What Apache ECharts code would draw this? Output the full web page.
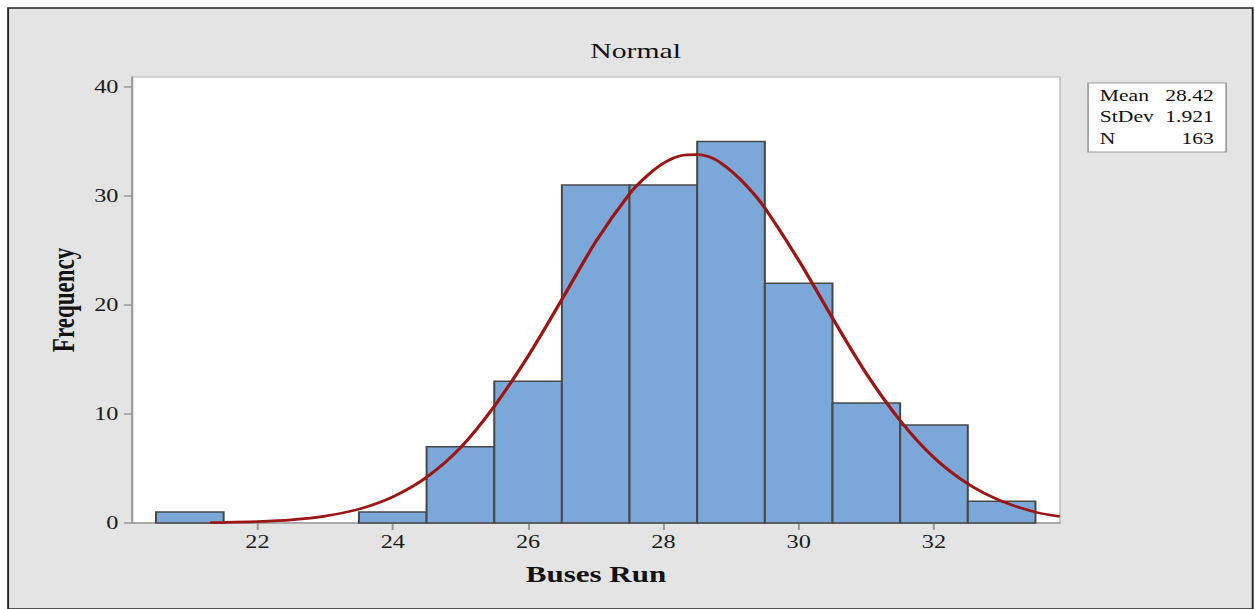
<!DOCTYPE html>
<html>
<head>
<meta charset="utf-8">
<script src="https://cdn.jsdelivr.net/npm/echarts@6/dist/echarts.min.js"></script>
<style>
  html, body { margin: 0; padding: 0; background: #ffffff; overflow: hidden; }
  #wrap { width: 1255px; height: 609px; overflow: hidden; }
  #chart { width: 930px; height: 609px; transform: scaleX(1.34946); transform-origin: 0 0; }
</style>
</head>
<body>
<div id="wrap"><div id="chart"></div></div>
<script>
// ---- data ----
const binCenters = [21, 22, 23, 24, 25, 26, 27, 28, 29, 30, 31, 32, 33];
const binCounts  = [1, 0, 0, 1, 7, 13, 31, 31, 35, 22, 11, 9, 2];
const curveX = [21.3, 21.5, 22, 22.5, 23, 23.5, 24, 24.5, 25, 25.5, 26, 26.5, 27, 27.5, 27.75, 28, 28.25, 28.5, 28.75, 29, 29.25, 29.5, 30, 30.5, 31, 31.5, 32, 32.5, 33, 33.5, 33.86];
const curveY = [0.04, 0.05, 0.13, 0.29, 0.63, 1.27, 2.4, 4.2, 6.9, 10.7, 15.3, 20.5, 25.8, 30.2, 31.8, 33.0, 33.7, 33.8, 33.4, 32.3, 30.8, 28.9, 24.1, 18.8, 13.7, 9.4, 6.0, 3.6, 2.0, 1.0, 0.6];
const xTicks = [22, 24, 26, 28, 30, 32];
const yTicks = [0, 10, 20, 30, 40];
const statLabels = ['Mean', 'StDev', 'N'];
const statValues = ['28.42', '1.921', '163'];

const FONT = '"Liberation Serif", "Times New Roman", serif';

const chart = echarts.init(document.getElementById('chart'), null, { renderer: 'svg', width: 930, height: 609 });

const barData = binCenters.map((c, i) => [c, binCounts[i]]);
const lineData = curveX.map((x, i) => [x, curveY[i]]);

const statTexts = [];
statLabels.forEach((l, i) => {
  statTexts.push({
    type: 'text', left: 815, top: 87.5 + i * 21.5, z: 20,
    style: { text: l, font: '16px ' + FONT, fill: '#111' }
  });
  statTexts.push({
    type: 'text', right: 930 - 899.5, top: 87.5 + i * 21.5, z: 20,
    style: { text: statValues[i], font: '16px ' + FONT, fill: '#111', textAlign: 'right' }
  });
});

const option = {
  animation: false,
  backgroundColor: '#ffffff',
  title: {
    text: 'Normal', left: 466, top: 35, textAlign: 'center',
    textStyle: { fontFamily: FONT, fontSize: 22, fontWeight: 'normal', color: '#111' }
  },
  graphic: [
    {
      type: 'rect', z: -10, silent: true,
      shape: { x: 6, y: 8, width: 922.3, height: 601 },
      style: { fill: '#e4e4e4', stroke: '#222', lineWidth: 1.4 }
    },
    {
      type: 'rect', z: 15, silent: true,
      shape: { x: 806.3, y: 83, width: 102.3, height: 69 },
      style: { fill: '#ffffff', stroke: '#9a9a9a', lineWidth: 1.2 }
    }
  ].concat(statTexts),
  grid: {
    left: 97.8, right: 930 - 785.5, top: 77, bottom: 609 - 523,
    show: true, backgroundColor: '#ffffff', borderColor: '#b8b8b8', borderWidth: 1,
    containLabel: false, outerBoundsMode: 'none'
  },
  xAxis: {
    type: 'value', min: 20.145, max: 33.863,
    name: 'Buses Run', nameLocation: 'middle', nameGap: 40,
    nameTextStyle: { fontFamily: FONT, fontSize: 23, fontWeight: 'bold', color: '#111' },
    axisLine: { show: true, onZero: false, lineStyle: { color: '#9a9a9a', width: 1.5 } },
    axisTick: { show: true, customValues: xTicks, length: 7, lineStyle: { color: '#9a9a9a', width: 1.5 } },
    axisLabel: { customValues: xTicks, margin: 10, fontFamily: FONT, fontSize: 18, color: '#1a1a1a' },
    splitLine: { show: false }
  },
  yAxis: {
    type: 'value', min: 0, max: 40.92,
    name: 'Frequency', nameLocation: 'middle', nameGap: 38, nameRotate: 90,
    nameTextStyle: { fontFamily: FONT, fontSize: 23, fontWeight: 'bold', color: '#111' },
    axisLine: { show: true, lineStyle: { color: '#9a9a9a', width: 1.5 } },
    axisTick: { show: true, customValues: yTicks, length: 6, lineStyle: { color: '#9a9a9a', width: 1.5 } },
    axisLabel: { customValues: yTicks, margin: 10, fontFamily: FONT, fontSize: 18, color: '#1a1a1a' },
    splitLine: { show: false }
  },
  series: [
    {
      type: 'custom',
      data: barData,
      z: 2,
      renderItem: function (params, api) {
        const c = api.value(0), v = api.value(1);
        if (!v) return null;
        const p0 = api.coord([c - 0.5, v]);
        const p1 = api.coord([c + 0.5, 0]);
        return {
          type: 'rect',
          shape: { x: p0[0], y: p0[1], width: p1[0] - p0[0], height: p1[1] - p0[1] },
          style: { fill: '#7ba7d9', stroke: '#484848', lineWidth: 1.5 }
        };
      },
      encode: { x: 0, y: 1 }
    },
    {
      type: 'line',
      data: lineData,
      smooth: 0.3,
      showSymbol: false,
      symbol: 'none',
      z: 5,
      lineStyle: { color: '#9c1515', width: 2.6 }
    }
  ]
};
chart.setOption(option);
</script>
</body>
</html>
